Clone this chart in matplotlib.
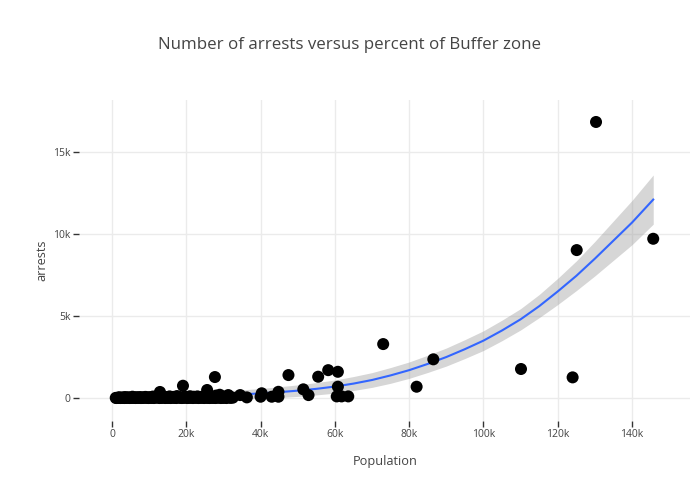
import matplotlib
matplotlib.use("Agg")
import matplotlib.pyplot as plt
from matplotlib.ticker import FuncFormatter

plt.rcParams['font.family'] = ['Open Sans', 'DejaVu Sans']

# Observed points (population, arrests), in thousands
pop_k = [1.0, 1.5, 2.0, 2.5, 3.0, 3.5, 4.0, 4.5, 5.0, 5.5, 6.0, 6.5, 7.0, 7.5, 8.0, 8.5,
         9.0, 9.5, 10.0, 10.5, 11.0, 11.5, 12.0, 12.9, 13.5, 14.0, 14.5, 15.0, 15.5,
         16.0, 16.5, 17.0, 17.5, 18.0, 18.5, 19.1, 19.5, 20.0, 20.5, 21.0, 21.5, 22.0,
         22.5, 23.0, 23.5, 24.0, 24.5, 25.6, 25.5, 26.0, 26.5, 27.0, 27.7, 28.0, 28.5,
         29.0, 29.5, 30.0, 30.5, 31.3, 32.0, 34.5, 36.3, 40.3, 40.0, 43.0, 44.8, 44.8,
         47.5, 51.5, 52.9, 55.5, 58.2, 60.8, 60.8, 60.5, 61.8, 63.6, 73.0, 82.0, 86.5,
         110.1, 124.0, 125.1, 130.3, 145.7,
         1.2, 1.8, 2.3, 2.8, 3.3, 3.8, 4.3, 4.8, 5.3, 5.8, 6.3, 6.8, 7.3, 7.8, 8.3, 8.8,
         9.3, 9.8, 10.3, 10.8, 11.3, 11.8, 12.3, 12.8, 13.3, 13.8, 14.3, 14.8, 15.3, 15.8,
         16.3, 16.8, 17.3, 17.8, 18.3, 18.8, 19.3, 19.8, 20.3, 20.8, 21.3, 21.8, 22.3,
         22.8, 23.3, 23.8, 24.3, 24.8, 25.3, 25.8, 26.3, 26.8, 27.3, 27.8, 28.3, 28.8,
         29.3, 29.8, 30.3, 30.8, 31.8, 32.5]
arrests_k = [0.01, 0.02, 0.05, 0.01, 0.03, 0.06, 0.02, 0.04, 0.01, 0.08, 0.03, 0.05, 0.02, 0.06,
             0.04, 0.01, 0.07, 0.03, 0.05, 0.02, 0.09, 0.04, 0.06, 0.37, 0.03, 0.08, 0.05,
             0.02, 0.10, 0.04, 0.07, 0.03, 0.12, 0.06, 0.02, 0.75, 0.09, 0.05, 0.03, 0.11,
             0.06, 0.08, 0.02, 0.10, 0.05, 0.07, 0.03, 0.49, 0.12, 0.04, 0.08, 0.02, 1.28,
             0.15, 0.06, 0.20, 0.10, 0.05, 0.08, 0.18, 0.04, 0.18, 0.04, 0.29, 0.08, 0.08,
             0.38, 0.08, 1.40, 0.53, 0.18, 1.30, 1.70, 1.60, 0.69, 0.10, 0.10, 0.10, 3.29,
             0.69, 2.36, 1.77, 1.26, 9.02, 16.83, 9.71,
             0.00, 0.01, 0.00, 0.02, 0.00, 0.01, 0.03, 0.00, 0.02, 0.01, 0.00, 0.03, 0.01,
             0.00, 0.02, 0.04, 0.01, 0.00, 0.03, 0.01, 0.00, 0.05, 0.02, 0.00, 0.01, 0.04,
             0.00, 0.02, 0.01, 0.00, 0.03, 0.01, 0.00, 0.04, 0.02, 0.00, 0.01, 0.03, 0.00,
             0.02, 0.01, 0.00, 0.04, 0.02, 0.00, 0.01, 0.03, 0.00, 0.02, 0.01, 0.00, 0.04,
             0.01, 0.00, 0.02, 0.03, 0.00, 0.01, 0.02, 0.00, 0.01, 0.02]

# Smoothed fit and its confidence band, in thousands
fit_x_k = [1, 5, 10, 15, 20, 25, 30, 35, 40, 45, 50, 55, 60, 65, 70, 75, 80, 85, 90, 95,
           100, 105, 110, 115, 120, 125, 130, 135, 140, 145.7]
fit_y_k = [-0.03, 0.00, 0.03, 0.06, 0.10, 0.14, 0.18, 0.23, 0.28, 0.36, 0.45, 0.56, 0.70,
           0.88, 1.10, 1.38, 1.70, 2.08, 2.50, 2.98, 3.50, 4.12, 4.80, 5.60, 6.50, 7.45,
           8.50, 9.60, 10.70, 12.10]
fit_lo_k = [-0.28, -0.22, -0.17, -0.13, -0.10, -0.08, -0.07, -0.05, -0.02, 0.03, 0.10,
            0.19, 0.30, 0.46, 0.65, 0.90, 1.20, 1.56, 1.95, 2.41, 2.90, 3.50, 4.15, 4.90,
            5.70, 6.55, 7.45, 8.40, 9.35, 10.60]
fit_hi_k = [0.22, 0.22, 0.23, 0.26, 0.30, 0.36, 0.43, 0.50, 0.58, 0.69, 0.80, 0.94, 1.10,
            1.31, 1.55, 1.86, 2.20, 2.61, 3.05, 3.56, 4.10, 4.75, 5.45, 6.31, 7.30, 8.36,
            9.55, 10.80, 12.05, 13.60]

x_ticks = [0, 20000, 40000, 60000, 80000, 100000, 120000, 140000]
y_ticks = [0, 5000, 10000, 15000]

pop = [v * 1000 for v in pop_k]
arrests = [v * 1000 for v in arrests_k]
fx = [v * 1000 for v in fit_x_k]
fy = [v * 1000 for v in fit_y_k]
flo = [v * 1000 for v in fit_lo_k]
fhi = [v * 1000 for v in fit_hi_k]

fig = plt.figure(figsize=(7, 5), dpi=100)
ax = fig.add_axes([79 / 700, 1 - 421 / 500, (690 - 79) / 700, (421 - 100) / 500])

ax.fill_between(fx, flo, fhi, color='#999999', alpha=0.4, linewidth=0, zorder=2)
ax.plot(fx, fy, color='#3366FF', linewidth=1.5, zorder=3)
ax.scatter(pop, arrests, s=75, color='black', edgecolors='none', zorder=4)

ax.set_xlim(-8890, 155600)
ax.set_ylim(-1400, 18170)

def kfmt(v, pos):
    if v == 0:
        return '0'
    return f'{int(round(v / 1000))}k'

ax.set_xticks(x_ticks)
ax.set_yticks(y_ticks)
ax.xaxis.set_major_formatter(FuncFormatter(kfmt))
ax.yaxis.set_major_formatter(FuncFormatter(kfmt))
ax.tick_params(axis='both', length=4, width=1, color='#333333', labelcolor='#444444',
               labelsize=7.5, pad=2)
ax.grid(True, color='#ebebeb', linewidth=1)
ax.set_axisbelow(True)
for s in ax.spines.values():
    s.set_visible(False)

fig.text(385 / 700, 1 - 462 / 500, 'Population', ha='center', va='center',
         fontsize=9.2, color='#444444')
fig.text(42 / 700, 1 - 260 / 500, 'arrests', ha='center', va='center', rotation=90,
         fontsize=9.2, color='#444444')
fig.text(350 / 700, 1 - 45 / 500, 'Number of arrests versus percent of Buffer zone',
         ha='center', va='center', fontsize=12.2, color='#444444')

fig.savefig('out.png', dpi=100)
